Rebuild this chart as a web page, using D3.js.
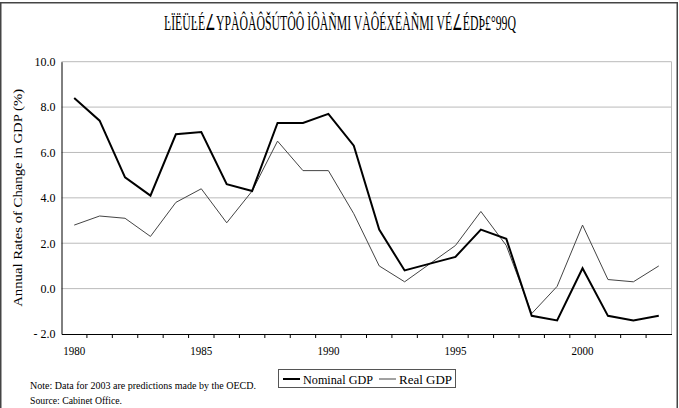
<!DOCTYPE html>
<html><head><meta charset="utf-8">
<script src="https://cdn.jsdelivr.net/npm/d3@7"></script>
<style>body{margin:0;background:#fff}svg{display:block}svg text{font-family:"Liberation Serif","Times New Roman",serif}</style>
</head><body>
<script>
const years = d3.range(1980, 2004);
const nominalGDP = [8.4,7.4,4.9,4.1,6.8,6.9,4.6,4.3,7.3,7.3,7.7,6.3,2.6,0.8,1.1,1.4,2.6,2.2,-1.2,-1.4,0.9,-1.2,-1.4,-1.2];
const realGDP = [2.8,3.2,3.1,2.3,3.8,4.4,2.9,4.3,6.5,5.2,5.2,3.3,1.0,0.3,1.1,1.9,3.4,1.9,-1.1,0.1,2.8,0.4,0.3,1.0];
const yTicks = [-2,0,2,4,6,8,10];
const xLabels = [1980,1985,1990,1995,2000];
const seriesNames = ["Nominal GDP","Real GDP"];
const titleText = "ĿÏËÜĿÉ∠ΥPÀÔÀÔŠÚTÔÔ ÌÔÀÑMI VÀÔÉXÉÀÑMI VÉ∠ÉDÞ£°99Q";
const noteLines = ["Note: Data for 2003 are predictions made by the OECD.","Source: Cabinet Office."];

const W=679,H=408;
const svg=d3.select("body").append("svg").attr("width",W).attr("height",H);
svg.append("rect").attr("x",0.75).attr("y",2.75).attr("width",676.5).attr("height",410)
  .attr("fill","none").attr("stroke","#444").attr("stroke-width",1.5);

const L=61.5,R=671.5,T=61.7,B=334;
const x=d3.scaleBand().domain(years).range([L,R]);
const y=d3.scaleLinear().domain([-2,10]).range([B,T]);
const cx=d=>x(d)+x.bandwidth()/2;

svg.append("text").attr("x",340).attr("y",30).attr("text-anchor","middle")
  .attr("font-size",22).attr("textLength",352).attr("lengthAdjust","spacingAndGlyphs")
  .text(titleText);

// grid
svg.append("g").selectAll("line").data(yTicks.filter(v=>v>-2)).join("line")
  .attr("x1",L).attr("x2",R).attr("y1",d=>y(d)).attr("y2",d=>y(d))
  .attr("stroke","#bbb").attr("stroke-width",1);
svg.append("line").attr("x1",R).attr("x2",R).attr("y1",T).attr("y2",B).attr("stroke","#bbb");

// y axis
const ya=svg.append("g").attr("transform",`translate(${L},0)`)
  .call(d3.axisLeft(y).tickValues(yTicks).tickSize(0).tickPadding(6).tickFormat(d3.format(".1f")));
ya.attr("font-family",null);
ya.select(".domain").attr("stroke","#000").attr("stroke-width",1);
ya.selectAll("text").attr("font-size",12).attr("fill","#000")
  .text(d=>d3.format(".1f")(d).replace("−","- "));

// x axis
const xa=svg.append("g").attr("transform",`translate(0,${B})`)
  .call(d3.axisBottom(x).tickValues(years).tickSize(0).tickPadding(12)
    .tickFormat(d=>xLabels.includes(d)?d:""));
xa.attr("font-family",null);
xa.select(".domain").attr("stroke","#000").attr("stroke-width",1);
xa.selectAll("text").attr("font-size",12).attr("fill","#000")
  .attr("textLength",d=>xLabels.includes(d)?22:null).attr("lengthAdjust","spacingAndGlyphs");
svg.append("g").selectAll("line").data(years.slice(1)).join("line")
  .attr("x1",d=>x(d)).attr("x2",d=>x(d)).attr("y1",B).attr("y2",B+4).attr("stroke","#000");

// axis title
svg.append("text").attr("transform",`translate(22,${(T+B)/2}) rotate(-90)`)
  .attr("text-anchor","middle").attr("font-size",13)
  .attr("textLength",218).attr("lengthAdjust","spacingAndGlyphs")
  .text("Annual Rates of Change in GDP (%)");

const line=d3.line().x((d,i)=>cx(years[i])).y(d=>y(d));
svg.append("path").datum(realGDP).attr("d",line).attr("fill","none").attr("stroke","#444").attr("stroke-width",1);
svg.append("path").datum(nominalGDP).attr("d",line).attr("fill","none").attr("stroke","#000").attr("stroke-width",2);

// legend
const lg=svg.append("g");
lg.append("rect").attr("x",278.5).attr("y",369.5).attr("width",177).attr("height",18)
  .attr("fill","#fff").attr("stroke","#555");
lg.append("line").attr("x1",283).attr("x2",300).attr("y1",379).attr("y2",379).attr("stroke","#000").attr("stroke-width",2);
lg.append("text").attr("x",303).attr("y",383.5).attr("font-size",13.5)
  .attr("textLength",70).attr("lengthAdjust","spacingAndGlyphs").text(seriesNames[0]);
lg.append("line").attr("x1",379).attr("x2",396).attr("y1",379).attr("y2",379).attr("stroke","#444").attr("stroke-width",1);
lg.append("text").attr("x",399).attr("y",383.5).attr("font-size",13.5)
  .attr("textLength",53).attr("lengthAdjust","spacingAndGlyphs").text(seriesNames[1]);

svg.append("g").selectAll("text").data(noteLines).join("text")
  .attr("x",30).attr("y",(d,i)=>389+i*15).attr("font-size",11)
  .attr("textLength",(d,i)=>i?92:226).attr("lengthAdjust","spacingAndGlyphs").text(d=>d);
</script>
</body></html>
